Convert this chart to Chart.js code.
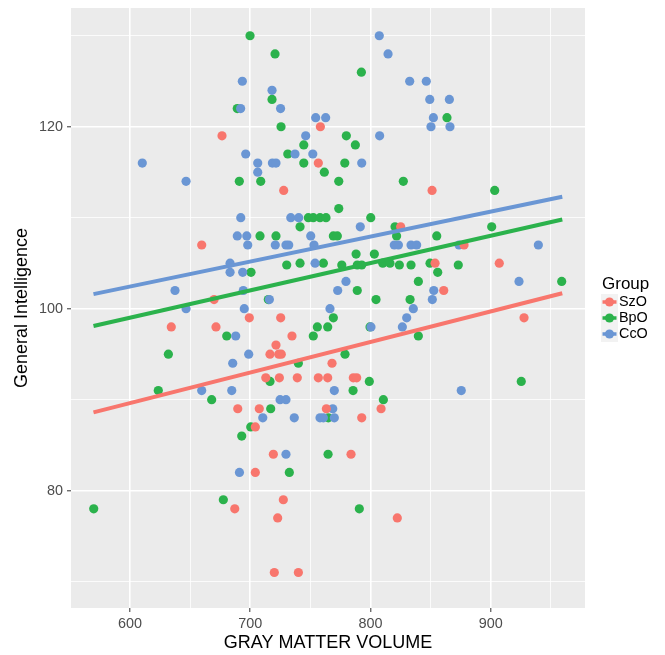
<!DOCTYPE html>
<html><head><meta charset="utf-8">
<script src="https://cdn.jsdelivr.net/npm/chart.js@4.4.1/dist/chart.umd.min.js"></script>
<style>html,body{margin:0;padding:0;background:#fff;overflow:hidden}#wrap{width:665px;height:655px;position:relative}</style>
</head><body><div id="wrap"><canvas id="c" width="665" height="655"></canvas></div>
<script>
const groups = ['SzO', 'BpO', 'CcO'];
const groupColors = ['#F8766D', '#2BB24C', '#6A96D4'];

const szoX = [758.3,676.5,756.6,727.8,851.2,825.1,659.6,877.8,853.7,907.1,860.9,669.9,699.2,725.3,927.7,634.3,671.5,734.7,721.4,716.4,723.7,725.8,768.0,712.9,724.2,739.1,756.6,764.4,785.7,788.5,689.6,707.5,763.3,808.8,704.2,792.7,719.2,783.8,704.2,727.5,687.1,722.8,822.3,720.0,740.0];
const szoY = [120,119,116,113,113,109,107,107,105,105,102,101,99,99,99,98,98,97,96,95,95,95,94,92.4,92.4,92.4,92.4,92.4,92.4,92.4,89,89,89,89,87,88,84,84,82,79,78,77,77,71,71];

const bpoX = [699.8,720.6,792.4,718.1,689.2,725.6,863.6,744.5,779.9,787.4,731.2,744.5,778.6,761.6,690.9,708.7,773.6,827.3,903.3,773.6,748.3,752.4,758.0,763.0,800.2,741.4,820.4,900.8,708.1,721.4,769.1,772.4,821.7,855.1,788.0,803.2,730.3,741.4,760.8,776.1,789.0,792.7,810.2,816.2,824.0,833.7,849.5,873.0,700.6,855.9,839.8,959.0,789.0,715.0,804.6,832.9,769.1,755.8,764.4,799.6,680.4,752.4,839.8,631.9,778.8,740.0,716.4,799.0,925.4,623.5,785.5,667.9,810.7,717.0,764.9,700.4,692.9,764.7,732.5,677.6,569.8,790.7];
const bpoY = [130,128,126,123,122,120,121,118,119,118,117,116,116,115,114,114,114,114,113,111,110,110,110,110,110,109,109,109,108,108,108,108,108,108,106,106,104.8,105,105,104.8,104.8,104.8,105,105,104.8,104.8,105,104.8,104,104,103,103,102,101,101,101,99,98,98,98,97,97,97,95,95,94,92,92,92,91,91,90,90,89,88,87,86,84,82,79,78,78];

const ccoX = [807.3,814.6,693.4,832.6,846.4,718.1,849.3,865.6,692.0,725.2,754.4,762.7,852.3,850.3,866.1,746.1,807.6,696.2,737.2,752.0,610.2,706.2,718.4,721.4,792.7,706.2,646.6,692.1,733.7,740.3,791.5,689.2,697.1,750.3,697.9,720.8,729.7,732.0,753.0,819.8,823.2,833.7,838.4,873.6,939.6,683.2,753.9,683.2,693.7,779.6,923.5,637.4,694.2,772.7,852.6,715.9,851.4,646.6,695.0,766.3,835.6,830.1,687.9,800.4,826.5,698.7,685.4,659.6,684.6,769.9,875.5,724.8,729.7,768.6,710.4,736.6,758.0,760.8,769.9,729.7,691.0];
const ccoY = [130,128,125,125,125,124,123,123,122,122,121,121,121,120,120,119,119,117,117,117,116,116,116,116,116,115,114,110,110,110,109,108,108,108,107,107,107,107,107,107,107,107,107,107,107,105,105,104,104,103,103,102,102,102,102,101,101,100,100,100,100,99,97,98,98,95,94,91,91,91,91,90,90,89,88,88,88,88,88,84,82];

// fitted line end points
const fitX = [569.6, 959.5];
const szoFit = [88.6, 101.7];
const bpoFit = [98.1, 109.8];
const ccoFit = [101.6, 112.3];

const xTickValues = [600, 650, 700, 750, 800, 850, 900, 950];
const xTickLabels = [600, 700, 800, 900];
const yTickValues = [70, 80, 90, 100, 110, 120, 130];
const yTickLabels = [80, 100, 120];

const FONT = '"Liberation Sans", Arial, Helvetica, sans-serif';

function pts(xs, ys) { return xs.map((x, i) => ({ x: x, y: ys[i] })); }

const panelBg = {
  id: 'panelBg',
  beforeDraw(chart) {
    const { ctx, chartArea: a } = chart;
    ctx.save();
    ctx.fillStyle = '#EBEBEB';
    ctx.fillRect(a.left, a.top, a.right - a.left, a.bottom - a.top);
    ctx.restore();
  }
};

const ggLegend = {
  id: 'ggLegend',
  afterDraw(chart) {
    const ctx = chart.ctx;
    ctx.save();
    ctx.fillStyle = '#000';
    ctx.font = '17px ' + FONT;
    ctx.textBaseline = 'alphabetic';
    ctx.textAlign = 'left';
    ctx.fillText('Group', 602, 289);
    groups.forEach((g, i) => {
      const cy = 302 + 16 * i;
      ctx.fillStyle = '#F2F2F2';
      ctx.fillRect(601, cy - 8, 17, 16);
      ctx.strokeStyle = groupColors[i];
      ctx.lineWidth = 3.5;
      ctx.beginPath();
      ctx.moveTo(602.5, cy);
      ctx.lineTo(616.5, cy);
      ctx.stroke();
      ctx.fillStyle = groupColors[i];
      ctx.beginPath();
      ctx.arc(609.5, cy, 4.6, 0, Math.PI * 2);
      ctx.fill();
      ctx.fillStyle = '#000';
      ctx.font = '14.4px ' + FONT;
      ctx.textBaseline = 'middle';
      ctx.fillText(g, 619, cy + 0.5);
    });
    ctx.restore();
  }
};

function lineDs(label, ys, color) {
  return {
    label: label + ' fit', data: pts(fitX, ys), showLine: true,
    borderColor: color, backgroundColor: color, borderWidth: 4,
    pointRadius: 0, pointHoverRadius: 0, fill: false, borderCapStyle: 'butt'
  };
}
function pointDs(label, xs, ys, color) {
  return {
    label: label, data: pts(xs, ys), showLine: false,
    backgroundColor: color, borderColor: color, borderWidth: 0,
    pointRadius: 4.6, pointHoverRadius: 4.6
  };
}

const isMajorX = v => xTickLabels.includes(v);
const isMajorY = v => yTickLabels.includes(v);

new Chart(document.getElementById('c'), {
  type: 'scatter',
  data: {
    datasets: [
      lineDs('SzO', szoFit, groupColors[0]),
      lineDs('BpO', bpoFit, groupColors[1]),
      lineDs('CcO', ccoFit, groupColors[2]),
      pointDs('SzO', szoX, szoY, groupColors[0]),
      pointDs('CcO', ccoX, ccoY, groupColors[2]),
      pointDs('BpO', bpoX, bpoY, groupColors[1])
    ]
  },
  options: {
    responsive: false,
    animation: false,
    devicePixelRatio: 1,
    layout: { padding: { left: 0, right: 80, top: 8, bottom: 0 } },
    plugins: { legend: { display: false }, tooltip: { enabled: false } },
    scales: {
      x: {
        type: 'linear', min: 550.9, max: 978.4,
        afterBuildTicks: s => { s.ticks = xTickValues.map(v => ({ value: v })); },
        afterFit: s => { s.height = 47; },
        border: { display: false },
        grid: {
          color: '#FFFFFF',
          lineWidth: c => (c.tick && isMajorX(c.tick.value)) ? 1.6 : 0.8,
          tickColor: c => (c.tick && isMajorX(c.tick.value)) ? '#333333' : 'rgba(0,0,0,0)',
          tickLength: 4, tickWidth: 1, drawTicks: true
        },
        ticks: {
          autoSkip: false, maxRotation: 0, padding: 3, color: '#4D4D4D',
          font: { family: FONT, size: 14.4, lineHeight: 1.2 },
          callback: v => isMajorX(v) ? String(v) : ''
        },
        title: {
          display: true, text: 'GRAY MATTER VOLUME', color: '#000',
          font: { family: FONT, size: 18, lineHeight: 1.2 }, padding: { top: 0, bottom: 1 }
        }
      },
      y: {
        type: 'linear', min: 67.1, max: 133.05,
        afterBuildTicks: s => { s.ticks = yTickValues.map(v => ({ value: v })); },
        afterFit: s => { s.width = 71; s.paddingTop = 0; s.paddingBottom = 0; },
        border: { display: false },
        grid: {
          color: '#FFFFFF',
          lineWidth: c => (c.tick && isMajorY(c.tick.value)) ? 1.6 : 0.8,
          tickColor: c => (c.tick && isMajorY(c.tick.value)) ? '#333333' : 'rgba(0,0,0,0)',
          tickLength: 4, tickWidth: 1, drawTicks: true
        },
        ticks: {
          autoSkip: false, padding: 4, color: '#4D4D4D',
          font: { family: FONT, size: 14.4, lineHeight: 0.3 },
          callback: v => isMajorY(v) ? String(v) : ''
        },
        title: {
          display: true, text: 'General Intelligence', color: '#000',
          font: { family: FONT, size: 18, lineHeight: 1.2 }, padding: { top: 11, bottom: 0 }
        }
      }
    }
  },
  plugins: [panelBg, ggLegend]
});
</script>
</body></html>
